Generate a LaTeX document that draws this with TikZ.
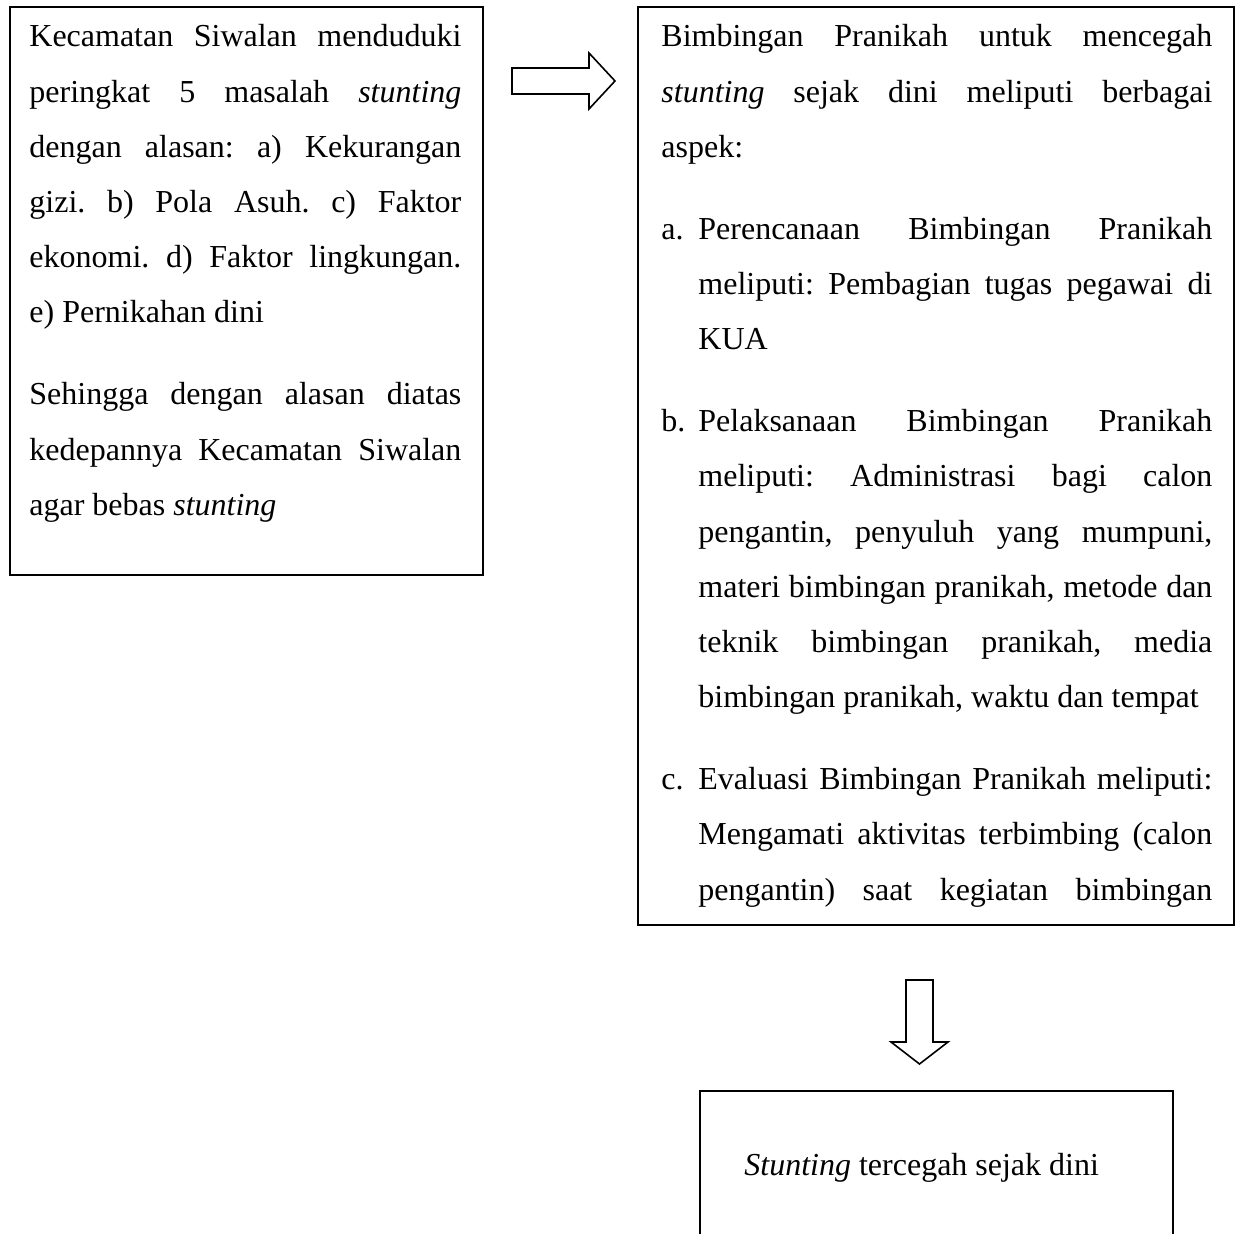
\documentclass[tikz,border=0pt]{standalone}
\usepackage{fontspec}
\setmainfont{Liberation Serif}
\begin{document}
\begin{tikzpicture}[x=0.5pt,y=-0.5pt,
  boxline/.style={draw=black,line width=1pt},
  txt/.style={inner sep=0pt,anchor=base west,align=left,font=\fontsize{16pt}{27.6pt}\selectfont},
  blockarrow/.style={draw=black,line width=0.8pt,fill=white}]
\useasboundingbox (0,0) rectangle (1237,1234);

\node[boxline, anchor=north west, minimum width=236.5pt, minimum height=284pt, inner sep=0pt] (left) at (9,6) {};
\node[boxline, anchor=north west, minimum width=298pt, minimum height=459pt, inner sep=0pt] (mid) at (637,6) {};
\node[anchor=north west, minimum width=236pt, minimum height=80pt, inner sep=0pt] (out) at (700,1091) {};
\draw[line width=1pt] (out.south west) -- (out.north west) -- (out.north east) -- (out.south east);

\node[txt, text width=216pt] (lefttext) at (29,47) {\spaceskip=0pt\xspaceskip=0pt\frenchspacing%
\makebox[216pt][s]{Kecamatan Siwalan menduduki}\\
\makebox[216pt][s]{peringkat 5 masalah \textit{stunting}}\\
\makebox[216pt][s]{dengan alasan: a) Kekurangan}\\
\makebox[216pt][s]{gizi. b) Pola Asuh. c) Faktor}\\
\makebox[216pt][s]{ekonomi. d) Faktor lingkungan.}\\
e) Pernikahan dini\\[13.4pt]
\makebox[216pt][s]{Sehingga dengan alasan diatas}\\
\makebox[216pt][s]{kedepannya Kecamatan Siwalan}\\
agar bebas \textit{stunting}};

\node[txt, text width=275.5pt] (midtext) at (661,47) {\spaceskip=0pt\xspaceskip=0pt\frenchspacing%
\makebox[275.5pt][s]{Bimbingan Pranikah untuk mencegah}\\
\makebox[275.5pt][s]{\textit{stunting} sejak dini meliputi berbagai}\\
aspek:\\[13.4pt]
\makebox[18.5pt][l]{a.}\makebox[257pt][s]{Perencanaan Bimbingan Pranikah}\\
\hspace*{18.5pt}\makebox[257pt][s]{meliputi: Pembagian tugas pegawai di}\\
\hspace*{18.5pt}KUA\\[13.4pt]
\makebox[18.5pt][l]{b.}\makebox[257pt][s]{Pelaksanaan Bimbingan Pranikah}\\
\hspace*{18.5pt}\makebox[257pt][s]{meliputi: Administrasi bagi calon}\\
\hspace*{18.5pt}\makebox[257pt][s]{pengantin, penyuluh yang mumpuni,}\\
\hspace*{18.5pt}\makebox[257pt][s]{materi bimbingan pranikah, metode dan}\\
\hspace*{18.5pt}\makebox[257pt][s]{teknik bimbingan pranikah, media}\\
\hspace*{18.5pt}bimbingan pranikah, waktu dan tempat\\[13.4pt]
\makebox[18.5pt][l]{c.}\makebox[257pt][s]{Evaluasi Bimbingan Pranikah meliputi:}\\
\hspace*{18.5pt}\makebox[257pt][s]{Mengamati aktivitas terbimbing (calon}\\
\hspace*{18.5pt}\makebox[257pt][s]{pengantin) saat kegiatan bimbingan}};

\node[txt] (outtext) at (744,1175) {\textit{Stunting} tercegah sejak dini};

\draw[blockarrow] (512,68) -- (589,68) -- (589,53) -- (615,81) -- (589,109) -- (589,94) -- (512,94) -- cycle;
\draw[blockarrow] (906,980) -- (933,980) -- (933,1042) -- (948,1042) -- (919.5,1064) -- (891,1042) -- (906,1042) -- cycle;
\end{tikzpicture}
\end{document}
